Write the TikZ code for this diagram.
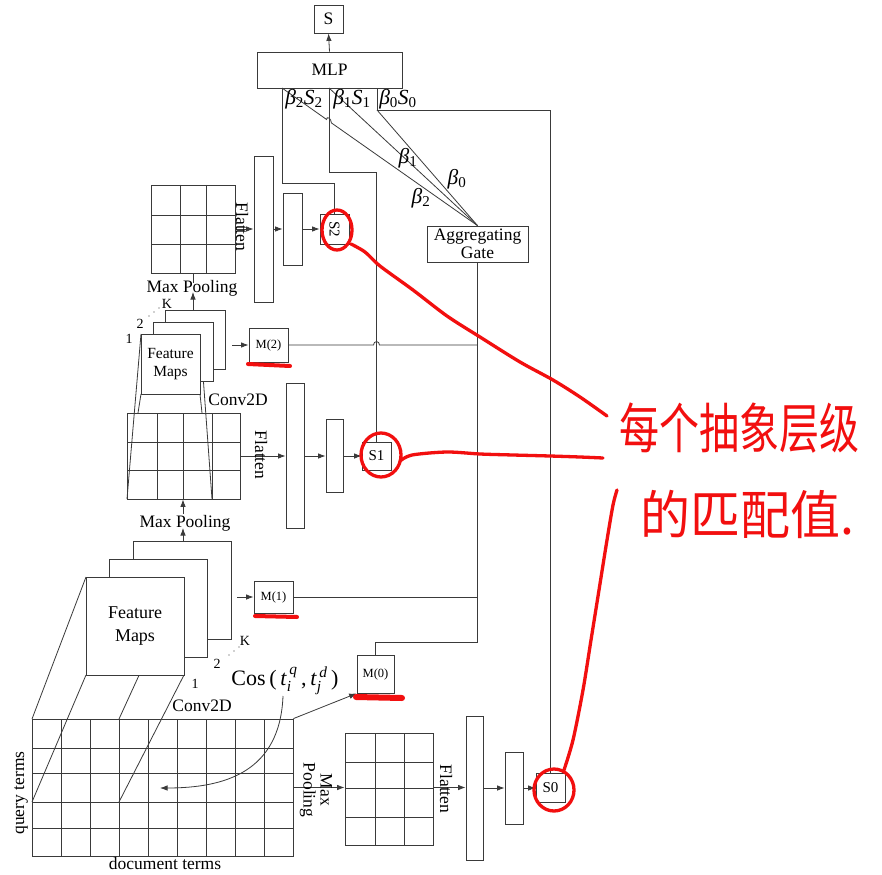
\documentclass[tikz,border=0pt]{standalone}
\usepackage{fontspec}
\usepackage{amsmath}
\usepackage{graphicx}
\setmainfont{Liberation Serif}
\newfontfamily\cjk{Noto Sans CJK SC}
\usetikzlibrary{arrows.meta,calc}
\definecolor{linec}{HTML}{3A3A3A}
\definecolor{annot}{HTML}{F20F0F}
\tikzset{
  box/.style={draw=linec, fill=white, line width=0.8pt, inner sep=0pt, align=center, font=\fontsize{15}{17}\selectfont},
  ln/.style={draw=linec, line width=0.8pt},
  arr/.style={ln, -{Latex[length=7.5pt,width=5.5pt]}},
  lbl/.style={inner sep=0pt, align=center, font=\fontsize{17.5}{17}\selectfont},
  small/.style={inner sep=0pt, font=\fontsize{14}{16}\selectfont},
  mbox/.style={box, font=\fontsize{12.5}{14}\selectfont},
  beta/.style={inner sep=0pt, font=\fontsize{21.5}{23}\selectfont},
  redmark/.style={draw=annot, line width=3.3pt, line cap=round, line join=round},
}
\begin{document}
\begin{tikzpicture}[x=1pt,y=-1pt]
\useasboundingbox (0,0) rectangle (882,874);
\fill[white] (0,0) rectangle (882,874);

% ---------- grids ----------
\node[box, minimum width=84pt, minimum height=88pt] (gu) at (193,229) {};
\foreach \x in {180,206} \draw[ln] (\x,185) -- (\x,273);
\foreach \y in {215,244} \draw[ln] (151,\y) -- (235,\y);

\node[box, minimum width=113pt, minimum height=86pt] (gm) at (183.5,456) {};
\foreach \x in {157,183,212} \draw[ln] (\x,413) -- (\x,499);
\foreach \y in {442,470} \draw[ln] (127,\y) -- (240,\y);

\node[box, minimum width=261pt, minimum height=137pt] (gb) at (162.5,787.5) {};
\foreach \x in {61,90,119,148,177,206,235,264} \draw[ln] (\x,719) -- (\x,856);
\foreach \y in {748,773,802,828} \draw[ln] (32,\y) -- (293,\y);

\node[box, minimum width=88pt, minimum height=112pt] (gs) at (389,789) {};
\foreach \x in {375,404} \draw[ln] (\x,733) -- (\x,845);
\foreach \y in {762,788,817} \draw[ln] (345,\y) -- (433,\y);

% ---------- perspective lines ----------
\draw[ln] (141,334) -- (127,499);
\draw[ln] (200,334) -- (212,499);
\draw[ln] (141,394) -- (138,413);
\draw[ln] (200,394) -- (202,413);
\draw[ln] (86,577) -- (32,719);
\draw[ln] (86,675) -- (32,802);
\draw[ln] (184,577) -- (119,719);
\draw[ln] (184,675) -- (119,802);

% ---------- feature map stacks ----------
\node[box, minimum width=60pt, minimum height=59pt] (fmuK) at (195,339.5) {};
\node[box, minimum width=60pt, minimum height=59pt] (fmu2) at (183,351.5) {};
\node[box, minimum width=59pt, minimum height=60pt, font=\fontsize{15.5}{18}\selectfont] (fmu1) at (170.5,364) {Feature\\Maps};

\node[box, minimum width=98pt, minimum height=98pt] (fmlK) at (182,590) {};
\node[box, minimum width=98pt, minimum height=98pt] (fml2) at (158,608) {};
\node[box, minimum width=98pt, minimum height=98pt, font=\fontsize{18}{23}\selectfont] (fml1) at (135,626) {Feature\\Maps};

\node[small] at (129,339) {1};
\node[small] at (140,324) {2};
\node[small] at (167,304) {K};
\foreach \p in {(149,316),(154,312),(159,308)} \fill[linec] \p circle[radius=0.7pt];
\node[small] at (195,684) {1};
\node[small] at (217,664) {2};
\node[small] at (245,641) {K};
\foreach \p in {(229,655),(234,651),(239,647)} \fill[linec] \p circle[radius=0.7pt];

% ---------- top ----------
\node[box, minimum width=29pt, minimum height=28pt, font=\fontsize{17.5}{19}\selectfont] (S) at (328.5,19) {S};
\node[box, minimum width=145pt, minimum height=36pt, font=\fontsize{17.5}{19}\selectfont] (MLP) at (329.5,70) {MLP};
\node[box, minimum width=101pt, minimum height=36pt, font=\fontsize{17.5}{18.5}\selectfont] (gate) at (477.5,244) {Aggregating\\Gate};

% ---------- bars and score boxes ----------
\node[box, minimum width=19pt, minimum height=146pt] (b1u) at (263.5,229) {};
\node[box, minimum width=19pt, minimum height=72pt] (b2u) at (292.5,229) {};
\node[box, minimum width=29pt, minimum height=30pt] (S2) at (334.5,229) {\rotatebox{-90}{S2}};
\node[box, minimum width=18pt, minimum height=145pt] (b1m) at (295,456) {};
\node[box, minimum width=17pt, minimum height=73pt] (b2m) at (334.5,456) {};
\node[box, minimum width=29pt, minimum height=28pt] (S1) at (376.5,456) {S1};
\node[box, minimum width=17pt, minimum height=144pt] (b1b) at (474.5,788) {};
\node[box, minimum width=18pt, minimum height=72pt] (b2b) at (514,788) {};
\node[box, minimum width=29pt, minimum height=29pt] (S0) at (550.5,787.5) {S0};

\node[mbox, minimum width=39pt, minimum height=34pt] (M2) at (268.5,345) {M(2)};
\node[mbox, minimum width=39pt, minimum height=32pt] (M1) at (273.5,597) {M(1)};
\node[mbox, minimum width=37pt, minimum height=38pt] (M0) at (375.5,674) {M(0)};

% ---------- connectors ----------
\draw[arr] (MLP.north) -- (S.south);
\coordinate (pb2) at (282,88);
\coordinate (pb1) at (329,88);
\coordinate (pb0) at (377,88);
\coordinate (c0) at (377,110);
\draw[ln] (S2.north) |- (282,183) -- (pb2);
\draw[ln] (S1.north) |- (329,172) -- (pb1);
\draw[ln] (S0.north) |- (c0) -- (pb0);
\draw[ln] (gate.north) -- (pb1);
\draw[ln] (gate.north) -- (c0);
\draw[ln] (gate.north) -- (331.45,122.93) .. controls (331.2,118.5) and (326.6,115.5) .. (326.55,119.47) -- (pb2);

\coordinate (gbot) at (477.5,642);
\draw[ln] (gate.south) -- (gbot);
\draw[ln] (M0.north) |- (gbot);
\draw[ln] (M1.east) -- (M1.east -| gate.south);
\draw[ln] (M2.east) -- (373.5,345) .. controls (373.5,340.5) and (379.5,340.5) .. (379.5,345) -- (M2.east -| gate.south);

\coordinate (a2) at (232,345);
\draw[arr] (a2) -- (M2.west);
\coordinate (a1) at (237,597);
\draw[arr] (a1) -- (M1.west);
\draw[arr] (gb.north east) -- (M0.south west);

% flatten chains
\draw[arr] (gu.east) -- (gu.east -| b1u.west);
\draw[arr] (b1u.east) -- (b2u.west);
\draw[arr] (b2u.east) -- (S2.west);
\draw[arr] (gm.east) -- (gm.east -| b1m.west);
\draw[arr] (b1m.east) -- (b2m.west);
\draw[arr] (b2m.east) -- (S1.west);
\draw[arr] (gb.east) -- (gb.east -| gs.west);
\draw[arr] (gb.east -| gs.east) -- (gb.east -| b1b.west);
\draw[arr] (b1b.east) -- (b2b.west);
\draw[arr] (b2b.east) -- (b2b.east -| S0.west);

% max pooling vertical arrows
\coordinate (mpu1) at (193,310);
\coordinate (mpu2) at (193,292);
\coordinate (mpu3) at (193,283);
\draw[arr] (mpu1) -- (mpu2);
\draw[ln] (mpu3) -- (gu.south);
\coordinate (mpl1) at (183,541);
\coordinate (mpl2) at (183,528);
\coordinate (mpl3) at (183,514);
\draw[arr] (mpl1) -- (mpl2);
\draw[arr] (mpl3) -- (gm.south -| mpl3);

% ---------- labels ----------
\node[lbl] at (192,288) {Max Pooling};
\node[lbl] at (185,523) {Max Pooling};
\node[lbl, rotate=-90] at (242,227) {Flatten};
\node[lbl, rotate=-90] at (261,455) {Flatten};
\node[lbl, rotate=-90] at (446,789) {Flatten};
\node[lbl, rotate=-90] at (316,790) {Max\\Pooling};
\node[lbl] at (238,400) {Conv2D};
\node[lbl] at (202,706) {Conv2D};
\node[lbl, rotate=90] at (21,793) {query terms};
\node[lbl] at (165,864) {document terms};

\node[inner sep=0pt, font=\fontsize{22}{24}\selectfont] (cos) at (285,681)
  {Cos\,(\,\textit{t}$^{\,\textit{q}}_{\textit{i}}$\,,\,\textit{t}$^{\,\textit{d}}_{\textit{j}}$\,)};
\coordinate (cosend) at (160,788);
\draw[arr] (283,696) .. controls (280,772) and (225,788) .. (cosend);

\node[beta] at (304,99) {\textit{β}\textsubscript{2}\textit{S}\textsubscript{2}};
\node[beta] at (352,99) {\textit{β}\textsubscript{1}\textit{S}\textsubscript{1}};
\node[beta] at (398,99) {\textit{β}\textsubscript{0}\textit{S}\textsubscript{0}};
\node[beta] at (408,158) {\textit{β}\textsubscript{1}};
\node[beta] at (457,179) {\textit{β}\textsubscript{0}};
\node[beta] at (421,198) {\textit{β}\textsubscript{2}};

% ---------- red annotations ----------
\draw[redmark] (337,230) ellipse [x radius=15pt, y radius=20pt];
\draw[redmark] (381,455) ellipse [x radius=20pt, y radius=22pt];
\draw[redmark] (554,790) ellipse [x radius=20pt, y radius=21pt];
\draw[redmark, line width=4pt] (248,364) -- (290,366);
\draw[redmark, line width=4pt] (255,616) -- (297,617);
\draw[redmark, line width=6pt] (356,697) -- (402,698);
\draw[redmark] plot[smooth] coordinates {(351,244) (365,252) (380,266) (413,290) (447,316) (480,337) (520,362) (553,380) (580,397) (607,416)};
\draw[redmark] plot[smooth] coordinates {(400,461) (412,455) (447,452) (480,454) (513,455) (550,456) (580,457) (603,458)};
\draw[redmark] plot[smooth] coordinates {(564,770) (573,740) (583,690) (591,640) (599,590) (607,540) (613,505) (617,490)};
\node[anchor=west, inner sep=0pt, text=annot, font=\cjk\fontsize{40}{44}\selectfont] at (619,428) {\scalebox{1}[1.35]{每个抽象层级}};
\node[anchor=west, inner sep=0pt, text=annot, font=\cjk\fontsize{50}{54}\selectfont] at (640,514) {\scalebox{1}[1.05]{的匹配值.}};
\end{tikzpicture}
\end{document}
